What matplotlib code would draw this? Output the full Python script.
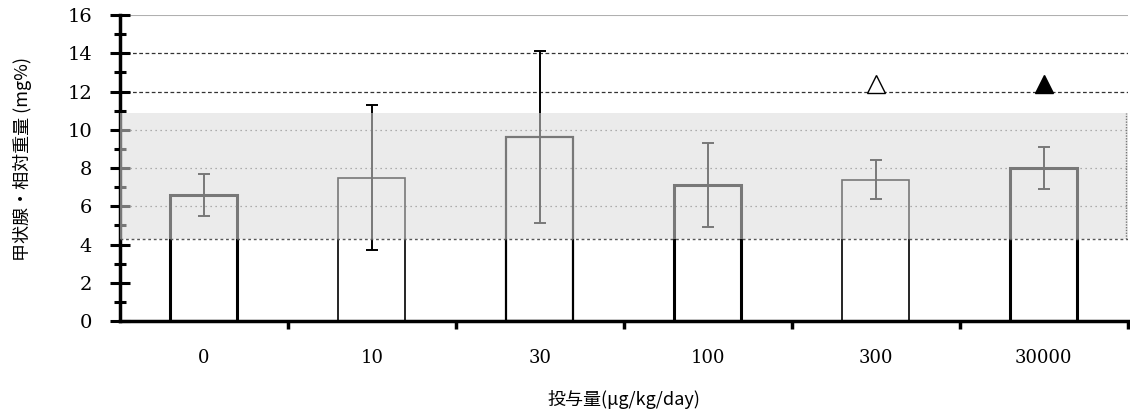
import numpy as np
import matplotlib.pyplot as plt
from matplotlib.ticker import MultipleLocator, FixedLocator

doses = ['0', '10', '30', '100', '300', '30000']
means = [6.6, 7.5, 9.6, 7.1, 7.4, 8.0]
sds = [1.1, 3.8, 4.5, 2.2, 1.0, 1.1]
edge_w = [2.2, 1.2, 1.6, 2.2, 1.2, 2.2]
band_lo, band_hi = 4.3, 10.9
mark_x = [4, 5]
mark_y = [12.4, 12.4]
mark_fill = ['white', 'black']

plt.rcParams['font.family'] = ['Noto Sans CJK JP', 'DejaVu Sans']

fig = plt.figure(figsize=(11.3, 4.18), dpi=100)
ax = fig.add_axes([0.106, 0.232, 0.892, 0.732])

x = np.arange(len(doses))
ax.bar(x, means, width=0.4, facecolor='none', edgecolor='black',
       linewidth=edge_w, zorder=2)
ax.errorbar(x, means, yerr=sds, fmt='none', ecolor='black', elinewidth=1.4,
            capsize=4.5, capthick=1.4, zorder=3)

# reference range band
ax.axhspan(band_lo, band_hi, facecolor='#dcdcdc', alpha=0.55, edgecolor='none', zorder=4)
ax.axhline(band_lo, color='#555555', lw=1, ls=(0, (2, 2)), zorder=5)
ax.plot([5.49, 5.49], [band_lo, band_hi], color='#777777', lw=1, ls=(0, (1, 1)), zorder=5,
        clip_on=False)
for g in [6, 8, 10]:
    ax.axhline(g, color='#444444', lw=0.9, ls=(0, (1, 3)), zorder=1)
for g in [12, 14]:
    ax.axhline(g, color='#333333', lw=0.9, ls=(0, (3, 2)), zorder=1)
ax.axhline(16, color='#b0b0b0', lw=1.5, zorder=1)

for xi, yi, fc in zip(mark_x, mark_y, mark_fill):
    ax.plot(xi, yi, marker='^', ms=13, mfc=fc, mec='black', mew=1, zorder=6)

ax.set_xlim(-0.5, 5.5)
ax.set_ylim(0, 16)
for s in ['top', 'right']:
    ax.spines[s].set_visible(False)
ax.spines['left'].set_linewidth(2.5)
ax.spines['bottom'].set_linewidth(2.5)

ax.set_xticks(x)
ax.set_xticklabels(doses, family=['DejaVu Serif'], fontsize=13)
ax.xaxis.set_minor_locator(FixedLocator(np.arange(0.5, 6, 1)))
ax.tick_params(axis='x', which='major', length=0, pad=20)
ax.tick_params(axis='x', which='minor', length=6, width=2.5, direction='out')

ax.yaxis.set_major_locator(MultipleLocator(2))
ax.yaxis.set_minor_locator(MultipleLocator(1))
ax.tick_params(axis='y', which='major', length=14, width=2.2, direction='inout', pad=13)
ax.tick_params(axis='y', which='minor', length=8, width=2.2, direction='inout')
for lab in ax.get_yticklabels():
    lab.set_family(['DejaVu Serif'])
    lab.set_fontsize(14)

ax.set_ylabel('甲状腺・相対重量 (mg%)', fontsize=13)
ax.yaxis.set_label_coords(-0.087, 0.53)
ax.set_xlabel('投与量(μg/kg/day)', fontsize=13, labelpad=17)

fig.savefig('out.png', dpi=100)
